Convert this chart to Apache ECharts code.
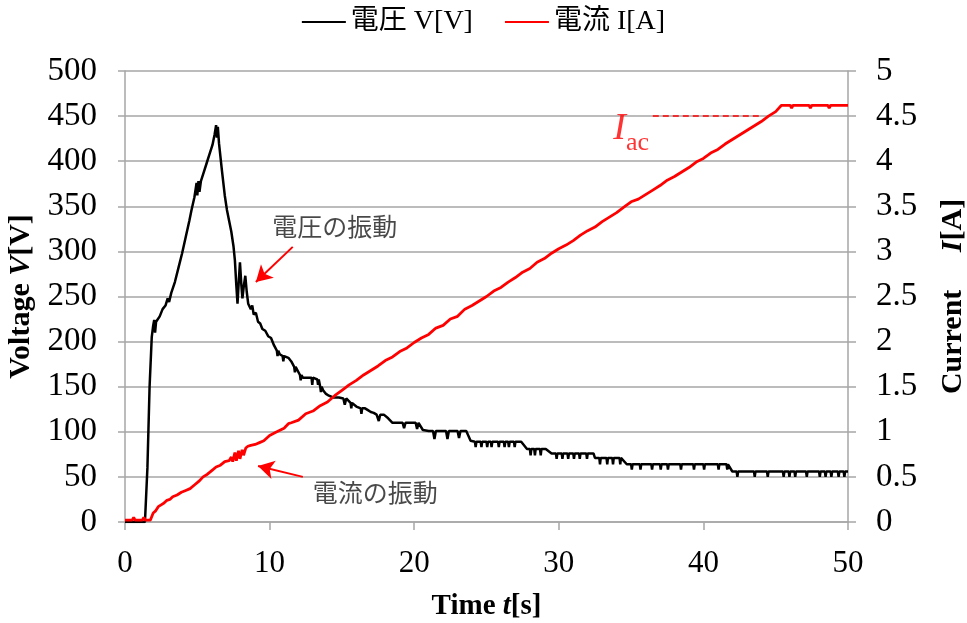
<!DOCTYPE html>
<html>
<head>
<meta charset="utf-8">
<script src="https://cdn.jsdelivr.net/npm/echarts@6/dist/echarts.min.js"></script>
<style>
  html, body { margin: 0; padding: 0; background: #ffffff; }
  #chart { width: 967px; height: 623px; }
</style>
</head>
<body>
<div id="chart"></div>
<script>
// Voltage record: [time s, voltage V]
const voltageRecord = [
  [0, 0], [1.38, 0], [1.55, 60], [1.70, 150], [1.85, 205], [1.95, 218], [2.02, 224], [2.08, 210], [2.15, 222],
  [2.40, 228], [2.60, 236], [2.80, 240], [2.95, 248], [3.05, 244], [3.20, 254], [3.45, 266], [3.70, 282],
  [3.95, 298], [4.20, 316], [4.45, 334], [4.60, 346], [4.80, 360], [4.95, 376], [5.00, 362], [5.08, 378],
  [5.15, 366], [5.25, 378], [5.45, 388], [5.65, 398], [5.85, 408], [6.05, 418], [6.20, 430], [6.30, 440],
  [6.36, 426], [6.42, 438], [6.50, 420], [6.70, 390], [6.90, 362], [7.05, 346], [7.20, 334], [7.35, 322],
  [7.50, 306], [7.60, 290], [7.70, 262], [7.78, 242], [7.88, 270], [7.95, 288], [8.05, 262], [8.12, 248],
  [8.22, 262], [8.32, 273], [8.42, 255], [8.52, 242], [8.60, 244], [8.70, 236], [8.80, 240], [8.90, 230],
  [9.05, 232], [9.20, 222], [9.35, 220], [9.50, 214], [9.70, 212], [9.90, 206], [10.10, 204], [10.30, 196],
  [10.50, 190], [10.55, 184], [10.60, 190], [10.70, 186], [10.90, 184], [10.95, 178], [11.00, 184],
  [11.10, 182], [11.30, 182], [11.50, 178], [11.70, 172], [11.75, 166], [11.80, 172], [11.90, 170],
  [12.10, 163], [12.15, 157], [12.20, 163], [12.30, 160], [12.60, 160], [12.90, 160], [12.95, 152],
  [13.00, 160], [13.30, 158], [13.35, 152], [13.40, 158], [13.50, 150], [13.55, 144], [13.60, 150],
  [13.70, 146], [13.90, 142], [14.10, 140], [14.40, 138], [14.80, 138], [15.10, 137], [15.20, 130],
  [15.30, 137], [15.60, 132], [15.65, 126], [15.70, 132], [15.80, 130], [16.00, 128], [16.30, 126],
  [16.35, 120], [16.40, 126], [16.60, 126], [16.80, 124], [17.00, 122], [17.20, 121], [17.40, 119],
  [17.55, 112], [17.65, 119], [17.90, 119], [18.20, 115], [18.50, 110], [18.90, 110], [19.20, 110],
  [19.30, 104], [19.40, 110], [19.80, 110], [20.10, 110], [20.20, 103], [20.30, 110], [20.60, 102],
  [21.00, 101], [21.30, 101], [21.40, 92], [21.50, 101], [21.90, 101], [22.20, 101], [22.30, 92],
  [22.40, 101], [22.70, 101], [23.00, 101], [23.10, 93], [23.20, 101], [23.60, 101], [23.90, 90],
  [24.20, 89], [24.25, 83], [24.30, 89], [24.60, 89], [24.65, 83], [24.70, 89], [25.00, 89], [25.05, 83],
  [25.10, 89], [25.30, 89], [25.35, 83], [25.40, 89], [25.80, 89], [25.85, 83], [25.90, 89], [26.20, 89],
  [26.25, 83], [26.30, 89], [26.50, 89], [26.55, 83], [26.60, 89], [26.90, 89], [26.95, 83], [27.00, 89],
  [27.40, 89], [27.80, 81], [28.00, 81], [28.05, 74], [28.10, 81], [28.30, 81], [28.35, 74], [28.40, 81],
  [28.70, 81], [28.75, 74], [28.80, 81], [29.10, 81], [29.50, 76], [29.80, 76], [29.85, 70], [29.90, 76],
  [30.20, 76], [30.25, 70], [30.30, 76], [30.60, 76], [30.65, 70], [30.70, 76], [31.00, 76], [31.05, 70],
  [31.10, 76], [31.40, 76], [31.45, 70], [31.50, 76], [31.90, 76], [31.95, 70], [32.00, 76], [32.40, 76],
  [32.50, 71], [32.80, 71], [32.85, 64], [32.90, 71], [33.30, 71], [33.35, 64], [33.40, 71], [33.70, 71],
  [33.75, 64], [33.80, 71], [34.20, 71], [34.25, 64], [34.30, 71], [34.70, 64], [35.00, 64], [35.05, 58],
  [35.10, 64], [35.60, 64], [35.65, 58], [35.70, 64], [36.40, 64], [36.45, 58], [36.50, 64], [37.00, 64],
  [37.05, 58], [37.10, 64], [37.50, 64], [37.55, 58], [37.60, 64], [38.40, 64], [38.45, 58], [38.50, 64],
  [39.30, 64], [39.35, 58], [39.40, 64], [40.00, 64], [40.05, 58], [40.10, 64], [41.00, 64], [41.05, 58],
  [41.10, 64], [41.60, 64], [41.65, 58], [41.70, 64], [42.00, 56], [42.30, 56], [42.35, 50], [42.40, 56],
  [43.50, 56], [43.55, 50], [43.60, 56], [44.40, 56], [44.45, 50], [44.50, 56], [45.50, 56], [45.55, 50],
  [45.60, 56], [45.90, 56], [45.95, 50], [46.00, 56], [46.30, 56], [46.35, 50], [46.40, 56], [47.10, 56],
  [47.15, 50], [47.20, 56], [48.00, 56], [48.05, 50], [48.10, 56], [48.40, 56], [48.45, 50], [48.50, 56],
  [48.80, 56], [48.85, 50], [48.90, 56], [49.30, 56], [49.35, 50], [49.40, 56], [49.70, 56], [49.75, 50],
  [49.80, 56], [50.00, 56]
];

// Current record: [time s, current A]
const currentRecord = [
  [0, 0.02], [0.50, 0.02], [0.60, 0.05], [0.70, 0.02], [1.20, 0.02], [1.30, 0.05], [1.40, 0.02], [1.75, 0.02],
  [1.95, 0.10], [2.10, 0.12], [2.30, 0.17], [2.50, 0.19], [2.70, 0.21], [2.90, 0.24], [3.10, 0.25],
  [3.30, 0.28], [3.60, 0.30], [3.90, 0.33], [4.20, 0.35], [4.50, 0.37], [4.80, 0.41], [5.10, 0.45],
  [5.40, 0.50], [5.70, 0.53], [6.00, 0.57], [6.30, 0.61], [6.60, 0.63], [6.90, 0.67], [7.20, 0.68],
  [7.35, 0.72], [7.45, 0.67], [7.60, 0.77], [7.70, 0.68], [7.85, 0.79], [7.95, 0.70], [8.10, 0.80],
  [8.20, 0.74], [8.35, 0.82], [8.50, 0.84], [8.70, 0.85], [9.00, 0.86], [9.30, 0.88], [9.60, 0.90],
  [10.0, 0.96], [10.5, 1.00], [11.0, 1.04], [11.3, 1.09], [11.5, 1.10], [12.0, 1.13], [12.5, 1.20],
  [13.0, 1.23], [13.5, 1.29], [14.0, 1.33], [14.5, 1.40], [15.0, 1.46], [15.5, 1.52], [16.0, 1.57],
  [16.5, 1.63], [17.0, 1.68], [17.5, 1.73], [18.0, 1.79], [18.5, 1.83], [19.0, 1.89], [19.5, 1.93],
  [20.0, 1.99], [20.5, 2.04], [21.0, 2.08], [21.5, 2.15], [22.0, 2.18], [22.5, 2.25], [23.0, 2.28],
  [23.5, 2.36], [24.0, 2.40], [24.5, 2.45], [25.0, 2.50], [25.5, 2.56], [26.0, 2.60], [26.5, 2.66],
  [27.0, 2.71], [27.5, 2.77], [28.0, 2.81], [28.5, 2.88], [29.0, 2.92], [29.5, 2.98], [30.0, 3.03],
  [30.5, 3.07], [31.0, 3.12], [31.5, 3.18], [32.0, 3.23], [32.5, 3.27], [33.0, 3.33], [33.5, 3.38],
  [34.0, 3.43], [34.5, 3.49], [35.0, 3.55], [35.5, 3.58], [36.0, 3.63], [36.5, 3.68], [37.0, 3.73],
  [37.5, 3.79], [38.0, 3.83], [38.5, 3.88], [39.0, 3.93], [39.5, 3.99], [40.0, 4.03], [40.5, 4.09],
  [41.0, 4.13], [41.5, 4.19], [42.0, 4.24], [42.5, 4.29], [43.0, 4.34], [43.5, 4.39], [44.0, 4.44],
  [44.5, 4.50], [45.0, 4.55], [45.4, 4.62], [46.0, 4.62], [46.1, 4.59], [46.2, 4.62], [47.3, 4.62],
  [47.4, 4.59], [47.5, 4.62], [48.6, 4.62], [48.7, 4.59], [48.8, 4.62], [50.0, 4.62]
];

// Axis ranges and tick steps: [min, max, interval]
const timeRange = [0, 50, 10];
const voltageRange = [0, 500, 50];
const currentRange = [0, 5, 0.5];

// Series names shown in the legend
const seriesNames = ['電圧 V[V]', '電流 I[A]'];

// Annotations in data coordinates [time, value]
const voltageNote = { text: '電圧の振動', at: [14.5, 328], arrow: [[11.6, 305], [9.05, 266]] };
const currentNote = { text: '電流の振動', at: [17.3, 33], arrow: [[12.3, 50], [9.2, 62]] };
const iacLine = [[36.5, 4.5], [44.0, 4.5]];
const iacLabelAt = [35.0, 4.36];

const SERIF = "'Liberation Serif', 'Times New Roman', serif";
const MIXED = "'Liberation Serif', 'Noto Sans CJK JP', serif";
const GRID_GRAY = '#a6a6a6';

const chart = echarts.init(document.getElementById('chart'), null, { renderer: 'canvas' });

const axisLine = { show: true, lineStyle: { color: GRID_GRAY, width: 1.5 } };
const axisTick = (len) => ({ show: true, inside: false, length: len, lineStyle: { color: GRID_GRAY, width: 1.5 } });
const boldRich = (size) => ({
  b: { fontFamily: SERIF, fontWeight: 'bold', fontSize: size, color: '#000' },
  bi: { fontFamily: SERIF, fontWeight: 'bold', fontStyle: 'italic', fontSize: size, color: '#000' }
});

chart.setOption({
  animation: false,
  backgroundColor: '#ffffff',
  textStyle: { fontFamily: SERIF },
  legend: {
    top: 3,
    left: 'center',
    data: seriesNames,
    icon: 'rect',
    itemWidth: 44,
    itemHeight: 2,
    itemGap: 32,
    textStyle: { color: '#000', fontFamily: MIXED, fontSize: 28 }
  },
  grid: { left: 125, right: 119, top: 71, bottom: 101, outerBoundsMode: 'none', containLabel: false },
  xAxis: {
    type: 'value',
    min: timeRange[0], max: timeRange[1], interval: timeRange[2],
    splitLine: { show: false },
    axisLine,
    axisTick: axisTick(8),
    axisLabel: { color: '#000', fontFamily: SERIF, fontSize: 31, margin: 26 },
    name: '{b|Time }{bi|t}{b|[s]}',
    nameLocation: 'middle',
    nameGap: 70,
    nameTextStyle: { rich: boldRich(29) }
  },
  yAxis: [
    {
      type: 'value',
      min: voltageRange[0], max: voltageRange[1], interval: voltageRange[2],
      axisLine,
      axisTick: axisTick(7),
      axisLabel: { color: '#000', fontFamily: SERIF, fontSize: 33, margin: 28 },
      splitLine: { show: true, lineStyle: { color: GRID_GRAY, width: 1.5 } },
      name: '{b|Voltage }{bi|V}{b|[V]}',
      nameLocation: 'middle',
      nameRotate: 90,
      nameGap: 81,
      nameTextStyle: { rich: boldRich(30) }
    },
    {
      type: 'value',
      position: 'right',
      min: currentRange[0], max: currentRange[1], interval: currentRange[2],
      axisLine,
      axisTick: axisTick(8),
      axisLabel: { color: '#000', fontFamily: SERIF, fontSize: 33, margin: 28 },
      splitLine: { show: false },
      name: '{b|Current     }{bi|I}{b|[A]}',
      nameLocation: 'middle',
      nameRotate: 90,
      nameGap: 90,
      nameTextStyle: { rich: boldRich(30) }
    }
  ],
  series: [
    {
      name: seriesNames[0],
      type: 'line',
      yAxisIndex: 0,
      data: voltageRecord,
      symbol: 'none',
      lineStyle: { color: '#000000', width: 2.5 },
      itemStyle: { color: '#000000' },
      z: 3,
      markLine: {
        silent: true,
        symbol: ['none', 'arrow'],
        symbolSize: [14, 16],
        label: { show: false },
        lineStyle: { color: '#ff0000', width: 2, type: 'solid' },
        data: [
          [{ coord: voltageNote.arrow[0] }, { coord: voltageNote.arrow[1] }],
          [{ coord: currentNote.arrow[0] }, { coord: currentNote.arrow[1] }]
        ]
      }
    },
    {
      name: seriesNames[1],
      type: 'line',
      yAxisIndex: 1,
      data: currentRecord,
      symbol: 'none',
      lineStyle: { color: '#ff0000', width: 2.8 },
      itemStyle: { color: '#ff0000' },
      z: 4,
      markLine: {
        silent: true,
        symbol: ['none', 'none'],
        label: { show: false },
        lineStyle: { color: '#ff0000', width: 1.5, type: [6, 4] },
        data: [[{ coord: iacLine[0] }, { coord: iacLine[1] }]]
      }
    },
    {
      name: 'notes',
      type: 'scatter',
      yAxisIndex: 0,
      silent: true,
      symbolSize: 0,
      data: [
        { value: voltageNote.at, label: { formatter: voltageNote.text } },
        { value: currentNote.at, label: { formatter: currentNote.text } }
      ],
      label: {
        show: true,
        position: 'inside',
        color: '#1a1a1a',
        fontFamily: "'Noto Sans CJK JP', sans-serif",
        fontSize: 25
      }
    },
    {
      name: 'iac',
      type: 'scatter',
      yAxisIndex: 1,
      silent: true,
      symbolSize: 0,
      data: [{ value: iacLabelAt }],
      label: {
        show: true,
        position: 'inside',
        formatter: '{i|I}{s|ac}',
        rich: {
          i: { fontFamily: SERIF, fontStyle: 'italic', fontSize: 38, color: '#ff0000', verticalAlign: 'bottom' },
          s: { fontFamily: SERIF, fontSize: 26, color: '#ff0000', verticalAlign: 'bottom', padding: [0, 0, -8, 0] }
        }
      }
    }
  ]
});
</script>
</body>
</html>
